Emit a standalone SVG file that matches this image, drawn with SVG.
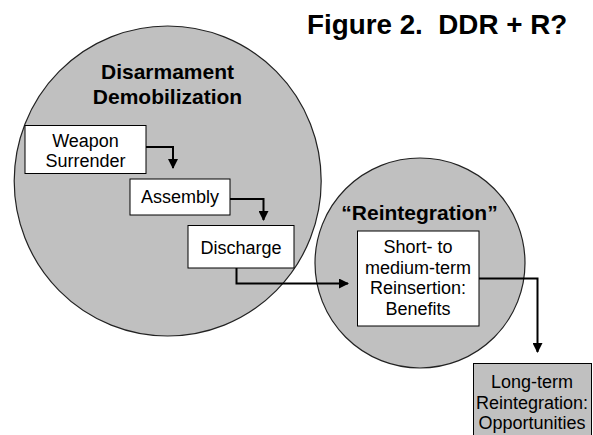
<svg xmlns="http://www.w3.org/2000/svg" width="593" height="435" viewBox="0 0 593 435">
<defs>
<style>
text{font-family:"Liberation Sans",Arial,sans-serif;fill:#000}
.t{font-size:18px;text-anchor:middle}
.h{font-size:21px;font-weight:bold;text-anchor:middle}
.circ{fill:#c0c0c0;stroke:#222;stroke-width:1.2}
.box{fill:#fff;stroke:#000;stroke-width:1}
.gbox{fill:#c0c0c0;stroke:#000;stroke-width:1}
.con{fill:none;stroke:#000;stroke-width:2;marker-end:url(#ah)}
</style>
<marker id="ah" viewBox="0 0 10 10" refX="9" refY="5" markerWidth="5" markerHeight="5" markerUnits="strokeWidth" orient="auto">
<path d="M0,0 L10,5 L0,10 Z" fill="#000"/>
</marker>
</defs>
<rect width="593" height="435" fill="#fff"/>
<text x="307" y="34" style="font-size:27.8px;font-weight:bold">Figure 2.&#160; DDR + R?</text>
<g id="ddCircle">
<ellipse class="circ" cx="167.7" cy="181" rx="153.5" ry="155"/>
<text class="h" x="167.5" y="79">Disarmament</text>
<text class="h" x="167.5" y="104">Demobilization</text>
</g>
<g id="reintCircle">
<circle class="circ" cx="420" cy="263" r="105"/>
<text class="h" x="419.5" y="220">“Reintegration”</text>
</g>
<g id="weapon">
<rect class="box" x="25" y="125.5" width="121" height="48"/>
<text class="t" x="85.5" y="146.5">Weapon</text>
<text class="t" x="85.5" y="167">Surrender</text>
</g>
<g id="assembly">
<rect class="box" x="130" y="179" width="100" height="36"/>
<text class="t" x="180" y="203">Assembly</text>
</g>
<g id="discharge">
<rect class="box" x="188" y="225.5" width="106" height="42.5"/>
<text class="t" x="241" y="253.5">Discharge</text>
</g>
<g id="reinsertion">
<rect class="box" x="357.5" y="231" width="121.5" height="95"/>
<text class="t" x="418" y="253">Short- to</text>
<text class="t" x="418" y="273.5">medium-term</text>
<text class="t" x="418" y="294">Reinsertion:</text>
<text class="t" x="418" y="314.5">Benefits</text>
</g>
<g id="longterm">
<rect class="gbox" x="473.5" y="363.5" width="118" height="80"/>
<text class="t" x="532" y="388">Long-term</text>
<text class="t" x="532" y="409">Reintegration:</text>
<text class="t" x="532" y="429">Opportunities</text>
</g>
<g id="connectors">
<path class="con" d="M146,147 H173 V168"/>
<path class="con" d="M230,199 H263.5 V220"/>
<path class="con" d="M236.5,268 V283.5 H348"/>
<path class="con" d="M479,278.5 H537.5 V352"/>
</g>
</svg>
